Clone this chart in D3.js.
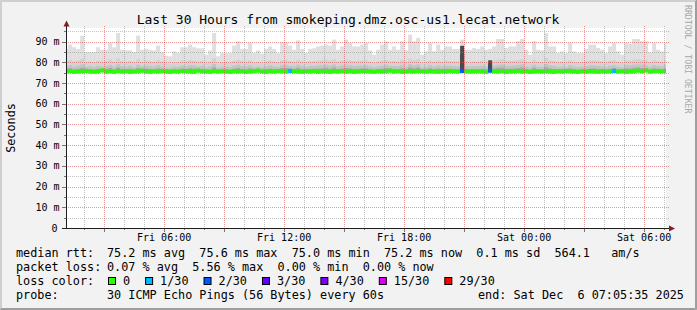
<!DOCTYPE html>
<html>
<head>
<meta charset="utf-8">
<script src="https://cdnjs.cloudflare.com/ajax/libs/d3/7.8.5/d3.min.js"></script>
<style>
  body { margin: 0; background: #fff; }
  svg text { font-family: "DejaVu Sans Mono", monospace; fill: #000; white-space: pre; }
</style>
</head>
<body>
<div id="chart"></div>
<script>
// --- data (ms), one value per 12 minute bar from Fri 01:00 ---
var rttMax = [
  86.5,88.6,87.3,86.5,92.9,85.0,85.0,85.0,87.3,86.1,
  86.1,89.4,87.3,94.2,86.1,85.8,85.8,85.0,92.9,86.1,
  86.5,86.1,85.8,88.1,85.0,83.2,82.9,85.3,84.5,87.3,
  87.3,88.6,87.3,86.8,86.8,83.7,85.8,94.2,82.9,84.5,
  84.5,84.5,88.1,90.2,86.5,86.5,89.4,84.5,85.8,84.2,
  86.5,87.7,86.5,84.5,89.7,89.7,88.1,86.1,90.6,86.5,
  84.5,86.5,86.8,87.7,88.1,88.6,88.1,91.0,86.1,87.7,
  91.0,89.4,87.7,87.7,88.6,89.4,85.8,83.7,86.1,88.6,
  90.2,86.1,87.7,86.1,90.2,85.8,93.4,90.2,91.8,83.7,
  85.3,89.4,85.3,88.6,86.1,87.7,87.7,86.5,86.5,91.0,
  86.1,86.1,87.0,86.5,87.7,86.1,86.5,87.7,91.3,91.3,
  87.0,87.7,87.7,90.2,91.3,86.1,83.7,90.2,86.1,85.8,
  94.2,87.7,87.7,84.5,85.3,84.5,89.4,85.3,84.5,84.5,
  86.5,88.6,88.6,87.0,86.1,84.5,87.7,89.4,85.3,83.7,
  89.4,89.0,91.3,91.3,90.2,90.2,84.8,89.4,86.1,85.3,
  89.4
];
var rttP90 = [
  80.6,81.2,80.4,80.9,81.8,80.2,80.5,80.1,80.8,80.4,
  80.7,81.5,80.3,81.9,80.5,80.2,80.6,80.0,81.7,80.4,
  80.9,80.5,80.2,81.0,80.3,79.6,79.4,80.1,80.0,80.8,
  80.6,81.1,80.9,80.4,80.7,79.8,80.3,82.0,79.5,80.1,
  80.2,79.9,80.8,81.3,80.6,80.4,81.0,79.9,80.3,79.8,
  80.5,80.9,80.4,80.0,81.1,81.2,80.7,80.4,81.4,80.6,
  80.0,80.5,80.6,80.9,81.0,81.2,80.8,81.5,80.4,80.9,
  81.3,81.0,80.7,80.8,80.9,81.0,80.3,79.7,80.4,80.8,
  81.2,80.5,80.7,80.4,81.2,80.2,81.9,81.1,81.6,79.8,
  80.2,81.0,80.3,80.9,80.4,80.8,80.6,80.5,80.4,88.0,
  80.6,80.3,80.5,80.4,80.8,80.2,81.0,80.9,81.4,81.5,
  80.7,80.8,80.9,81.1,81.5,80.4,79.8,81.2,80.2,80.1,
  82.2,80.9,80.7,80.0,80.3,79.9,81.0,80.3,80.0,80.1,
  80.6,80.9,81.0,80.7,80.4,79.9,80.8,81.0,80.3,79.8,
  81.0,80.9,81.4,81.5,81.2,81.1,80.0,81.0,80.5,80.3,
  80.9
];
var rttP75 = [
  78.2,78.6,78.0,78.4,79.0,77.9,78.1,77.8,78.3,78.0,
  78.4,78.8,78.0,79.1,78.2,77.9,78.3,77.7,78.9,78.1,
  78.5,78.2,77.9,78.6,78.0,77.5,77.4,77.9,77.8,78.4,
  78.2,78.7,78.5,78.0,78.3,77.6,78.0,79.2,77.4,77.9,
  78.0,77.7,78.4,78.8,78.2,78.1,78.6,77.7,78.0,77.6,
  78.2,78.5,78.1,77.8,78.7,78.8,78.3,78.1,78.9,78.2,
  77.8,78.2,78.3,78.5,78.6,78.8,78.4,79.0,78.1,78.5,
  78.8,78.6,78.3,78.4,78.5,78.6,78.0,77.6,78.1,78.4,
  78.8,78.2,78.3,78.1,78.7,77.9,79.2,78.6,79.0,77.6,
  77.9,78.6,78.0,78.5,78.1,78.4,78.3,78.2,78.1,84.0,
  78.3,78.0,78.2,78.1,78.4,77.9,79.5,78.5,78.9,79.0,
  78.3,78.4,78.5,78.7,79.0,78.1,77.6,78.8,77.9,77.8,
  79.3,78.5,78.3,77.8,78.0,77.7,78.6,78.0,77.8,77.9,
  78.2,78.5,78.6,78.3,78.1,77.7,78.4,78.6,78.0,77.6,
  78.6,78.5,78.9,79.0,78.8,78.7,77.8,78.6,78.2,78.0,
  78.5
];
var rttP60 = [
  76.8,77.2,76.5,76.9,77.4,76.4,76.7,76.3,76.9,76.6,
  76.9,77.3,76.5,77.5,76.8,76.4,76.9,76.2,77.3,76.6,
  77.0,76.7,76.4,77.1,76.5,76.2,76.1,76.4,76.3,76.9,
  76.8,77.2,77.0,76.5,76.8,76.2,76.5,77.6,76.1,76.4,
  76.5,76.3,76.9,77.3,76.7,76.6,77.1,76.3,76.5,76.2,
  76.7,77.0,76.6,76.3,77.2,77.3,76.8,76.6,77.4,76.7,
  76.3,76.7,76.8,77.0,77.1,77.3,76.9,77.5,76.6,77.0,
  77.3,77.1,76.8,76.9,77.0,77.1,76.5,76.2,76.6,76.9,
  77.3,76.7,76.8,76.6,77.2,76.4,77.6,77.1,77.5,76.2,
  76.4,77.1,76.5,77.0,76.6,76.9,76.8,76.7,76.6,80.0,
  76.8,76.5,76.7,76.6,76.9,76.4,78.0,77.0,77.4,77.5,
  76.8,76.9,77.0,77.2,77.5,76.6,76.2,77.3,76.4,76.3,
  77.7,77.0,76.8,76.3,76.5,76.3,77.1,76.5,76.3,76.4,
  76.7,77.0,77.1,76.8,76.6,76.3,76.9,77.1,76.5,76.2,
  77.1,77.0,77.4,77.5,77.3,77.2,76.3,77.1,76.7,76.5,
  77.0
];
var median = [
  75.2,75.3,75.0,75.1,75.2,75.4,75.1,75.0,75.2,75.6,
  75.1,75.2,75.0,75.3,75.1,75.2,75.0,75.1,75.2,75.5,
  75.1,75.0,75.2,75.1,75.3,75.1,75.0,75.2,75.1,75.4,
  75.2,75.1,75.0,75.5,75.2,75.1,75.0,75.3,75.1,75.2,
  75.1,75.0,75.2,75.1,75.2,75.0,75.1,75.2,75.5,75.1,
  75.0,75.2,75.1,75.3,75.2,75.1,75.4,75.2,75.1,75.0,
  75.2,75.1,75.3,75.0,75.2,75.1,75.0,75.2,75.1,75.2,
  75.1,75.2,75.0,75.1,75.3,75.2,75.1,75.0,75.2,75.1,
  75.2,75.5,75.1,75.2,75.0,75.1,75.2,75.1,75.3,75.2,
  75.1,75.2,75.1,75.0,75.2,75.1,75.3,75.2,75.1,75.4,
  75.2,75.1,75.2,75.2,75.1,75.0,75.5,75.2,75.1,75.2,
  75.0,75.1,75.2,75.3,75.1,75.2,75.0,75.1,75.2,75.1,
  75.2,75.1,75.0,75.2,75.1,75.3,75.2,75.1,75.0,75.2,
  75.1,75.2,75.1,75.0,75.2,75.1,75.2,75.4,75.1,75.2,
  75.0,75.1,75.2,75.5,75.2,75.6,75.1,75.2,75.3,75.2,
  75.2
];
// loss bucket per bar (index into lossLabels)
var lossIdx = median.map(function() { return 0; });
lossIdx[56] = 1; lossIdx[99] = 2; lossIdx[106] = 2; lossIdx[137] = 1;

var lossLabels = ["0", "1/30", "2/30", "3/30", "4/30", "15/30", "29/30"];
var lossColors = ["#26ff00", "#00b8ff", "#0059ff", "#5e00ff", "#7e00ff", "#dd00ff", "#ff0000"];
var yTickValues = [0, 10, 20, 30, 40, 50, 60, 70, 80, 90];

var legendRtt = "75.2 ms avg  75.6 ms max  75.0 ms min  75.2 ms now  0.1 ms sd  564.1   am/s";
var legendLoss = "0.07 % avg  5.56 % max  0.00 % min  0.00 % now";
var probeText = "30 ICMP Echo Pings (56 Bytes) every 60s";
var endText = "end: Sat Dec  6 07:05:35 2025";

// --- layout ---
var W = 697, H = 310;
var pLeft = 66, pRight = 666, pTop = 28, pBottom = 228;
var tEnd = new Date(2025, 11, 6, 7, 5, 35);
var tStart = new Date(+tEnd - 30 * 3600 * 1000);
var firstBar = new Date(2025, 11, 5, 1, 0, 0);
var barMs = 12 * 60 * 1000;

var x = d3.scaleTime().domain([tStart, tEnd]).range([pLeft, pRight]);
var y = d3.scaleLinear().domain([0, 96.6]).range([pBottom, pTop]);

var svg = d3.select("#chart").append("svg")
  .attr("width", W).attr("height", H);

// background + 3d frame
svg.append("rect").attr("width", W).attr("height", H).attr("fill", "#f2f2f2");
svg.append("path").attr("d", "M0.5," + (H - 1) + "V0.5H" + (W - 1) + " M1.5," + (H - 2) + "V1.5H" + (W - 2))
  .attr("stroke", "#cfcfcf").attr("fill", "none");
svg.append("path").attr("d", "M" + (W - 0.5) + ",0V" + (H - 0.5) + "H0 M" + (W - 1.5) + ",1V" + (H - 1.5) + "H1")
  .attr("stroke", "#9e9e9e").attr("fill", "none");

svg.append("rect").attr("x", pLeft).attr("y", pTop)
  .attr("width", pRight - pLeft).attr("height", pBottom - pTop).attr("fill", "#fff");

svg.append("clipPath").attr("id", "clip").append("rect")
  .attr("x", pLeft).attr("y", pTop).attr("width", pRight - pLeft).attr("height", pBottom - pTop);

var g = svg.append("g").attr("clip-path", "url(#clip)");

var bars = median.map(function(m, i) {
  return { t0: new Date(+firstBar + i * barMs), t1: new Date(+firstBar + (i + 1) * barMs), i: i };
});

// smoke layers, outer to inner
var layers = [
  { vals: rttMax, color: "#dfdfdf", dark: "#dfdfdf" },
  { vals: rttP90, color: "#d3d3d3", dark: "#4a4a4a" },
  { vals: rttP75, color: "#c3c3c3", dark: "#4a4a4a" },
  { vals: rttP60, color: "#a9a9a9", dark: "#4a4a4a" }
];
layers.forEach(function(layer) {
  g.selectAll(null).data(bars).enter().append("rect")
    .attr("x", function(d) { return x(d.t0); })
    .attr("width", function(d) { return x(d.t1) - x(d.t0); })
    .attr("y", function(d) { return y(layer.vals[d.i]); })
    .attr("height", function(d) { return y(median[d.i]) - y(layer.vals[d.i]); })
    .attr("fill", function(d) { return lossIdx[d.i] >= 2 ? layer.dark : layer.color; });
});

// median band coloured by loss
g.selectAll(null).data(bars).enter().append("rect")
  .attr("x", function(d) { return x(d.t0); })
  .attr("width", function(d) { return x(d.t1) - x(d.t0); })
  .attr("y", function(d) { return y(median[d.i]) - 3.2; })
  .attr("height", 4.3)
  .attr("fill", function(d) { return lossColors[lossIdx[d.i]]; });

// grid
var grid = svg.append("g");
var minorY = d3.range(5, 96, 5).filter(function(v) { return v % 10 !== 0; });
var majorY = yTickValues.filter(function(v) { return v > 0; });
var hours = d3.timeHour.range(tStart, tEnd);
var minorX = hours.filter(function(h) { return h.getHours() % 3 !== 0; });
var majorX = hours.filter(function(h) { return h.getHours() % 3 === 0; });

function hLines(vals, color) {
  grid.selectAll(null).data(vals).enter().append("line")
    .attr("x1", pLeft).attr("x2", pRight + 3)
    .attr("y1", function(v) { return Math.round(y(v)) + 0.5; })
    .attr("y2", function(v) { return Math.round(y(v)) + 0.5; })
    .attr("stroke", color).attr("stroke-dasharray", "1,1");
}
function vLines(vals, color) {
  grid.selectAll(null).data(vals).enter().append("line")
    .attr("y1", pTop - 2).attr("y2", pBottom)
    .attr("x1", function(v) { return Math.round(x(v)) + 0.5; })
    .attr("x2", function(v) { return Math.round(x(v)) + 0.5; })
    .attr("stroke", color).attr("stroke-dasharray", "1,1");
}
hLines(minorY, "rgba(143,143,143,0.55)");
vLines(minorX, "rgba(143,143,143,0.55)");
hLines(majorY, "rgba(222,80,80,0.6)");
vLines(majorX, "rgba(222,80,80,0.6)");

// ticks outside the plot
grid.selectAll(null).data(minorY.concat(majorY)).enter().append("line")
  .attr("x1", function(v) { return v % 10 === 0 ? 62 : 64; }).attr("x2", pLeft)
  .attr("y1", function(v) { return Math.round(y(v)) + 0.5; })
  .attr("y2", function(v) { return Math.round(y(v)) + 0.5; })
  .attr("stroke", "#777");
grid.selectAll(null).data(hours).enter().append("line")
  .attr("y1", pBottom).attr("y2", function(h) { return h.getHours() % 3 === 0 ? pBottom + 4 : pBottom + 2; })
  .attr("x1", function(v) { return Math.round(x(v)) + 0.5; })
  .attr("x2", function(v) { return Math.round(x(v)) + 0.5; })
  .attr("stroke", "#777");

// axes with arrows
svg.append("line").attr("x1", pLeft + 0.5).attr("x2", pLeft + 0.5).attr("y1", pBottom + 1).attr("y2", 24)
  .attr("stroke", "#1f1f1f");
svg.append("line").attr("x1", 62).attr("x2", 671).attr("y1", pBottom + 0.5).attr("y2", pBottom + 0.5)
  .attr("stroke", "#1f1f1f");
svg.append("path").attr("d", "M63.5,26.5L69.5,26.5L66.5,20.5Z").attr("fill", "#801f1f");
svg.append("path").attr("d", "M669,225.5L669,231.5L675,228.5Z").attr("fill", "#801f1f");

// axis labels
svg.selectAll(null).data(yTickValues).enter().append("text")
  .attr("x", function(v) { return v === 0 ? 57.5 : 59.5; })
  .attr("y", function(v) { return y(v) + 3.6; })
  .attr("text-anchor", "end")
  .style("font-size", "10px")
  .text(function(v) { return v === 0 ? "0" : v + " m"; });

var fmt = d3.timeFormat("%a %H:%M");
svg.selectAll(null).data(hours.filter(function(h) { return h.getHours() % 6 === 0; })).enter().append("text")
  .attr("x", function(h) { return x(h); })
  .attr("y", 241)
  .attr("text-anchor", "middle")
  .style("font-size", "10px")
  .text(function(h) { return fmt(h); });

// title, axis title, watermark
svg.append("text").attr("x", 348).attr("y", 24).attr("text-anchor", "middle")
  .style("font-size", "13px")
  .text("Last 30 Hours from smokeping.dmz.osc-us1.lecat.network");
svg.append("text").attr("transform", "translate(14.5,128) rotate(-90)")
  .attr("text-anchor", "middle").style("font-size", "11.8px").text("Seconds");
svg.append("text").attr("transform", "translate(685,5) rotate(90)")
  .style("font-size", "8.2px").style("fill", "#a8a8a8")
  .text("RRDTOOL / TOBI OETIKER");

// legend
var fs = "11.8px";
var rows = [257, 271, 285, 299];
svg.append("text").attr("x", 16).attr("y", rows[0]).style("font-size", fs).text("median rtt:");
svg.append("text").attr("x", 107).attr("y", rows[0]).style("font-size", fs).text(legendRtt);
svg.append("text").attr("x", 16).attr("y", rows[1]).style("font-size", fs).text("packet loss:");
svg.append("text").attr("x", 107).attr("y", rows[1]).style("font-size", fs).text(legendLoss);
svg.append("text").attr("x", 16).attr("y", rows[2]).style("font-size", fs).text("loss color:");

var bx = 108;
lossLabels.forEach(function(lab, i) {
  svg.append("rect").attr("x", bx + 0.5).attr("y", rows[2] - 7.5)
    .attr("width", 7).attr("height", 7)
    .attr("fill", lossColors[i]).attr("stroke", "#000");
  var t = svg.append("text").attr("x", bx + 15).attr("y", rows[2]).style("font-size", fs).text(lab);
  bx = bx + 15 + t.node().getComputedTextLength() + 15;
});

svg.append("text").attr("x", 16).attr("y", rows[3]).style("font-size", fs).text("probe:");
svg.append("text").attr("x", 107).attr("y", rows[3]).style("font-size", fs).text(probeText);
svg.append("text").attr("x", 478).attr("y", rows[3]).style("font-size", fs).text(endText);
</script>
</body>
</html>
